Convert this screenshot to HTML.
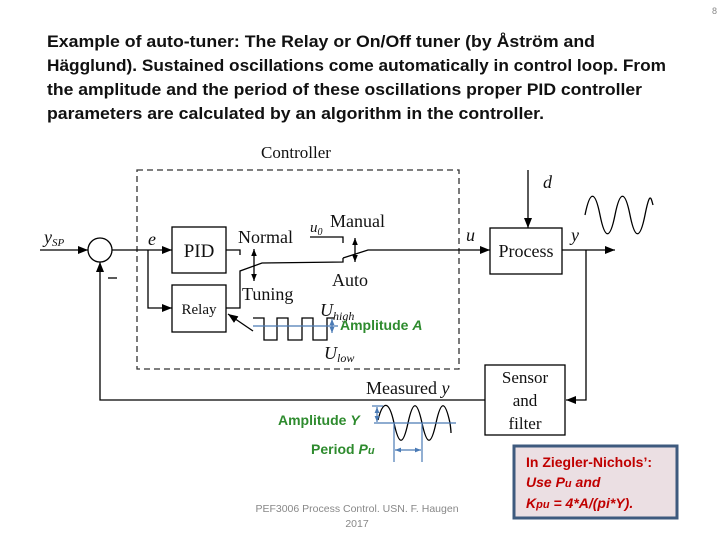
<!DOCTYPE html>
<html><head><meta charset="utf-8"><style>
html,body{margin:0;padding:0;background:#fff;}
svg{display:block;}
.t{font-family:"Liberation Sans",sans-serif;font-weight:bold;font-size:16.5px;fill:#111;}
.s{font-family:"Liberation Serif",serif;fill:#111;}
.g{font-family:"Liberation Sans",sans-serif;font-weight:bold;font-size:14px;fill:#2e8b2e;}
.r{font-family:"Liberation Sans",sans-serif;font-weight:bold;font-size:14px;fill:#c00000;}
</style></head><body>
<svg width="720" height="540" viewBox="0 0 720 540" xmlns="http://www.w3.org/2000/svg">
<defs>
<marker id="a" viewBox="0 0 10 10" refX="10" refY="5" markerWidth="10" markerHeight="10" markerUnits="userSpaceOnUse" orient="auto"><path d="M0,1 L10,5 L0,9z" fill="#000"/></marker>
<marker id="b" viewBox="0 0 10 10" refX="10" refY="5" markerWidth="7" markerHeight="7" markerUnits="userSpaceOnUse" orient="auto-start-reverse"><path d="M0,1 L10,5 L0,9z" fill="#000"/></marker>
<marker id="c" viewBox="0 0 10 10" refX="10" refY="5" markerWidth="6" markerHeight="6" markerUnits="userSpaceOnUse" orient="auto-start-reverse"><path d="M0,1 L10,5 L0,9z" fill="#4a7ab5"/></marker>
</defs>
<text x="712" y="14" font-family="Liberation Sans,sans-serif" font-size="9" fill="#888">8</text>
<text class="t" x="47" y="47" textLength="548" lengthAdjust="spacingAndGlyphs">Example of auto-tuner: The Relay or On/Off tuner (by Åström and</text>
<text class="t" x="47" y="71" textLength="619" lengthAdjust="spacingAndGlyphs">Hägglund). Sustained oscillations come automatically in control loop. From</text>
<text class="t" x="47" y="95" textLength="595" lengthAdjust="spacingAndGlyphs">the amplitude and the period of these oscillations proper PID controller</text>
<text class="t" x="47" y="119" textLength="497" lengthAdjust="spacingAndGlyphs">parameters are calculated by an algorithm in the controller.</text>

<text class="s" x="296" y="158" font-size="17" text-anchor="middle">Controller</text>
<rect x="137" y="170" width="322" height="199" fill="none" stroke="#333" stroke-width="1.3" stroke-dasharray="6,4"/>

<g stroke="#000" stroke-width="1.3" fill="none">
<line x1="40" y1="250" x2="88" y2="250" marker-end="url(#a)"/>
<circle cx="100" cy="250" r="12"/>
<line x1="112" y1="250" x2="172" y2="250" marker-end="url(#a)"/>
<polyline points="148,250 148,308 172,308" marker-end="url(#a)"/>
<rect x="172" y="227" width="54" height="46"/>
<rect x="172" y="285" width="54" height="47"/>
<polyline points="226,250 240,250 240,255"/>
<polyline points="226,308 240,308 240,271 262,263 343,262 343,258"/>
<line x1="254" y1="249" x2="254" y2="281" marker-start="url(#b)" marker-end="url(#b)"/>
<polyline points="310,237 343,237 343,243"/>
<polyline points="343,258 368,250 490,250" marker-end="url(#a)"/>
<line x1="355" y1="238" x2="355" y2="262" marker-start="url(#b)" marker-end="url(#b)"/>
<rect x="490" y="228" width="72" height="46"/>
<line x1="528" y1="170" x2="528" y2="228" marker-end="url(#a)"/>
<line x1="562" y1="250" x2="615" y2="250" marker-end="url(#a)"/>
<polyline points="586,250 586,400 566,400" marker-end="url(#a)"/>
<rect x="485" y="365" width="80" height="70"/>
<polyline points="485,400 100,400 100,262" marker-end="url(#a)"/>
<line x1="108" y1="278" x2="117" y2="278"/>
<line x1="253" y1="331" x2="228" y2="314" marker-end="url(#a)"/>
<polyline points="253,318 264,318 264,340 277,340 277,318 288,318 288,340 302,340 302,318 313,318 313,340 327,340 327,318 334,318"/>
<path d="M585,215 C590,190 595,190 600,215 S610,240 615,215 S625,190 630,215 S640,240 645,215 S651,198 653,205"/>
<path d="M378,420 C383,400 389,400 394,423 S403,446 408,423 S417,400 422,423 S431,446 436,423 S445,400 450,423 C451,430 451,433 451,433"/>
</g>
<g stroke="#4a7ab5" stroke-width="1.2" fill="none">
<line x1="253" y1="326" x2="338" y2="326"/>
<line x1="332" y1="319" x2="332" y2="333" marker-start="url(#c)" marker-end="url(#c)"/>
<line x1="374" y1="423" x2="456" y2="423"/>
<line x1="372" y1="406" x2="383" y2="406"/>
<line x1="377" y1="407" x2="377" y2="422" marker-start="url(#c)" marker-end="url(#c)"/>
<line x1="394" y1="423" x2="394" y2="462"/>
<line x1="422" y1="423" x2="422" y2="462"/>
<line x1="395" y1="450" x2="421" y2="450" marker-start="url(#c)" marker-end="url(#c)"/>
</g>

<text class="s" x="44" y="243" font-size="18" font-style="italic">y<tspan font-size="11" dy="3">SP</tspan></text>
<text class="s" x="148" y="245" font-size="18" font-style="italic">e</text>
<text class="s" x="199" y="257" font-size="19" text-anchor="middle">PID</text>
<text class="s" x="199" y="314" font-size="15" text-anchor="middle">Relay</text>
<text class="s" x="238" y="243" font-size="18">Normal</text>
<text class="s" x="242" y="300" font-size="18">Tuning</text>
<text class="s" x="310" y="232" font-size="15" font-style="italic">u<tspan font-size="10" dy="3">0</tspan></text>
<text class="s" x="330" y="227" font-size="18">Manual</text>
<text class="s" x="332" y="286" font-size="18">Auto</text>
<text class="s" x="320" y="316" font-size="18" font-style="italic">U<tspan font-size="12" dy="4">high</tspan></text>
<text class="s" x="324" y="359" font-size="18" font-style="italic">U<tspan font-size="12" dy="3">low</tspan></text>
<text class="g" x="340" y="330">Amplitude <tspan font-style="italic">A</tspan></text>
<text class="s" x="466" y="241" font-size="18" font-style="italic">u</text>
<text class="s" x="543" y="188" font-size="18" font-style="italic">d</text>
<text class="s" x="571" y="241" font-size="18" font-style="italic">y</text>
<text class="s" x="526" y="257" font-size="18" text-anchor="middle">Process</text>
<text class="s" x="525" y="383" font-size="17" text-anchor="middle">Sensor</text>
<text class="s" x="525" y="406" font-size="17" text-anchor="middle">and</text>
<text class="s" x="525" y="429" font-size="17" text-anchor="middle">filter</text>
<text class="s" x="366" y="394" font-size="18">Measured <tspan font-style="italic">y</tspan></text>
<text class="g" x="278" y="425">Amplitude <tspan font-style="italic">Y</tspan></text>
<text class="g" x="311" y="454">Period <tspan font-style="italic">P<tspan font-size="11">u</tspan></tspan></text>

<text x="357" y="512" font-family="Liberation Sans,sans-serif" font-size="10.5" fill="#888" text-anchor="middle">PEF3006 Process Control. USN. F. Haugen</text>
<text x="357" y="527" font-family="Liberation Sans,sans-serif" font-size="10.5" fill="#888" text-anchor="middle">2017</text>

<rect x="514" y="446" width="163" height="72" fill="#ebdfe3" stroke="#3e5a7e" stroke-width="3"/>
<text class="r" x="526" y="467">In Ziegler-Nichols’:</text>
<text class="r" x="526" y="487" font-style="italic">Use P<tspan font-size="11">u</tspan> and</text>
<text class="r" x="526" y="508" font-style="italic">K<tspan font-size="11">pu</tspan> = 4*A/(pi*Y).</text>
</svg>
</body></html>
